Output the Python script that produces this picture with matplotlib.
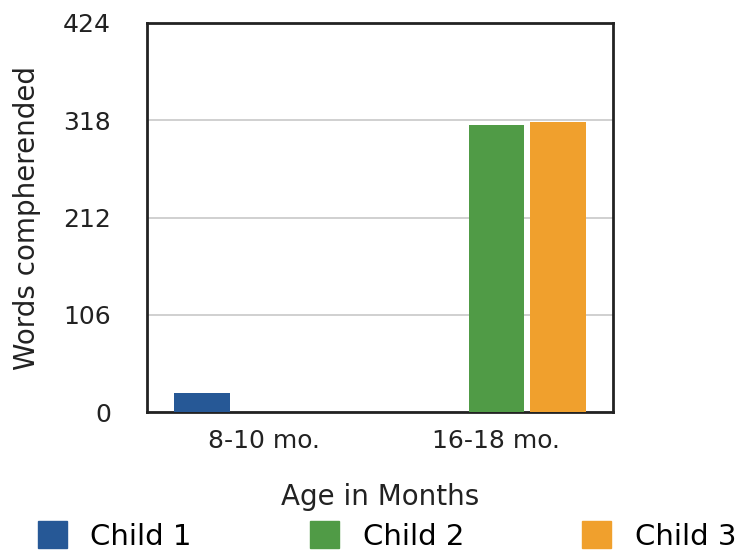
import matplotlib
matplotlib.use("Agg")
import matplotlib.pyplot as plt
import numpy as np
from matplotlib.patches import Patch

categories = ["8-10 mo.", "16-18 mo."]
series_names = ["Child 1", "Child 2", "Child 3"]
child1 = [21, 0]
child2 = [0, 313]
child3 = [0, 316]
yticks = [0, 106, 212, 318, 424]
colors = ["#265896", "#509b46", "#f0a02d"]

plt.rcParams['font.family'] = ['DejaVu Sans']
fig = plt.figure(figsize=(7.42, 5.52), dpi=100)
ax = fig.add_axes([147/742, 1-412/552, (613-147)/742, (412-23)/552])

x = np.arange(len(categories))
width = 0.24
step = 0.262
for i, (vals, c) in enumerate(zip([child1, child2, child3], colors)):
    ax.bar(x + (i-1)*step, vals, width=width, color=c, zorder=3)

ax.set_xlim(-0.5, 1.5)
ax.set_ylim(0, 424)
ax.set_yticks(yticks)
ax.set_yticklabels([str(v) for v in yticks])
ax.set_xticks(x)
ax.set_xticklabels(categories)
ax.tick_params(axis='y', length=0, labelsize=18, colors='#222222', pad=26)
ax.tick_params(axis='x', length=0, labelsize=18, colors='#222222', pad=12)
ax.yaxis.grid(True, color='#c8c8c8', linewidth=1.2, zorder=0)
for s in ax.spines.values():
    s.set_linewidth(2)
    s.set_color('#222222')

ax.set_ylabel("Words compherended", fontsize=20, color='#222222')
ax.yaxis.set_label_coords(-(147-41)/466, 0.5)
ax.set_xlabel("Age in Months", fontsize=20, color='#222222')
ax.xaxis.set_label_coords(0.5, -(483-412)/389)

handles = [Patch(facecolor=c, edgecolor=c) for c in colors]
fig.legend(handles, series_names, loc='center left', bbox_to_anchor=(38/742, 16/552),
           ncol=3, frameon=False, fontsize=21, handlelength=1.0,
           handleheight=1.0, handletextpad=0.8, columnspacing=4.05,
           borderpad=0, borderaxespad=0)

fig.savefig("out.png", dpi=100)
